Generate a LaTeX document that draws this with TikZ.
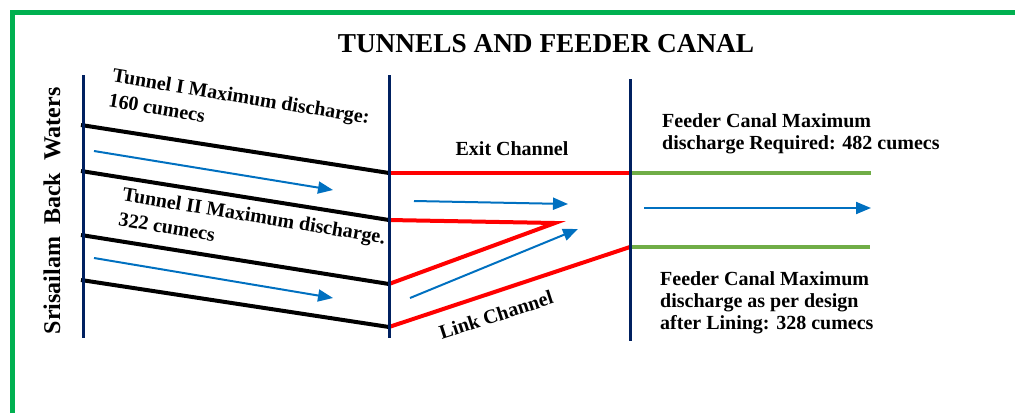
\documentclass[tikz,border=0pt]{standalone}
\usepackage{fontspec}
\setmainfont{Liberation Serif}
\usetikzlibrary{arrows.meta}

\definecolor{navy}{HTML}{002060}
\definecolor{flowblue}{HTML}{0070C0}
\definecolor{framegreen}{HTML}{00B050}
\definecolor{canalgreen}{HTML}{70AD47}

\begin{document}
\begin{tikzpicture}[x=1pt, y=-1pt,
  bank/.style={draw=navy, line width=3pt},
  wall/.style={draw=black, line width=4pt},
  exitwall/.style={draw=red, line width=4pt},
  feeder/.style={draw=canalgreen, line width=4pt},
  flow/.style={draw=flowblue, line width=2pt, -{Triangle[length=15pt,width=12pt]}},
  lbl/.style={inner sep=0pt, font=\fontsize{20}{22}\selectfont\bfseries, align=left},
  tunnellbl/.style={lbl, rotate=-9.3, anchor=north west, font=\fontsize{20}{25}\selectfont\bfseries}]
  \useasboundingbox (0,0) rectangle (1015,413);
  \draw[framegreen, line width=5pt] (12,413) -- (12,12) -- (1015,12);

  \coordinate (t1a) at (81,125);
  \coordinate (t1b) at (389,173);
  \coordinate (t2a) at (81,171);
  \coordinate (t2b) at (389,220);
  \coordinate (t3a) at (81,235);
  \coordinate (t3b) at (389,284);
  \coordinate (t4a) at (81,280);
  \coordinate (t4b) at (389,327);
  \coordinate (fork) at (555,223);
  \coordinate (c1) at (630,173);
  \coordinate (c2) at (630,247);
  \coordinate (c1e) at (871,173);
  \coordinate (c2e) at (870,247);

  \draw[wall] (t1a) -- (t1b);
  \draw[wall] (t2a) -- (t2b);
  \draw[wall] (t3a) -- (t3b);
  \draw[wall] (t4a) -- (t4b);
  \draw[exitwall] (t1b) -- (c1);
  \draw[exitwall] (t2b) -- (fork) -- (t3b);
  \draw[exitwall] (t4b) -- (c2);
  \draw[feeder] (c1) -- (c1e);
  \draw[feeder] (c2) -- (c2e);

  \draw[bank] (83,75) -- (83,338);
  \draw[bank] (389,75) -- (389,338);
  \draw[bank] (630,79) -- (630,341);

  \coordinate (f1a) at (94,151);   \coordinate (f1b) at (333,190);
  \coordinate (f2a) at (94,258);   \coordinate (f2b) at (333,298);
  \coordinate (f3a) at (414,201);  \coordinate (f3b) at (568,204);
  \coordinate (f4a) at (410,298);  \coordinate (f4b) at (578,229);
  \coordinate (f5a) at (644,208);  \coordinate (f5b) at (871,208);
  \draw[flow] (f1a) -- (f1b);
  \draw[flow] (f2a) -- (f2b);
  \draw[flow] (f3a) -- (f3b);
  \draw[flow] (f4a) -- (f4b);
  \draw[flow] (f5a) -- (f5b);

  \node[lbl, anchor=base, font=\fontsize{27.3}{30}\selectfont\bfseries] (title) at (546,52) {TUNNELS AND FEEDER CANAL};
  \node[lbl, rotate=90, font=\fontsize{24}{26}\selectfont\bfseries] (source) at (52,211) {Srisailam\ \ Back\ \ Waters};
  \node[tunnellbl] (tunnelone) at (114,68) {Tunnel I Maximum discharge:\\160 cumecs};
  \node[tunnellbl] (tunneltwo) at (124,187) {Tunnel II Maximum discharge.\\322 cumecs};
  \node[lbl, anchor=base] (exitlbl) at (512,155) {Exit Channel};
  \node[lbl, rotate=18] (linklbl) at (496,315) {Link Channel};
  \node[lbl, anchor=north west] (required) at (662,113.5) {Feeder Canal Maximum\\discharge Required: 482 cumecs};
  \node[lbl, anchor=north west] (design) at (660,271.5) {Feeder Canal Maximum\\discharge as per design\\after Lining: 328 cumecs};
\end{tikzpicture}
\end{document}
